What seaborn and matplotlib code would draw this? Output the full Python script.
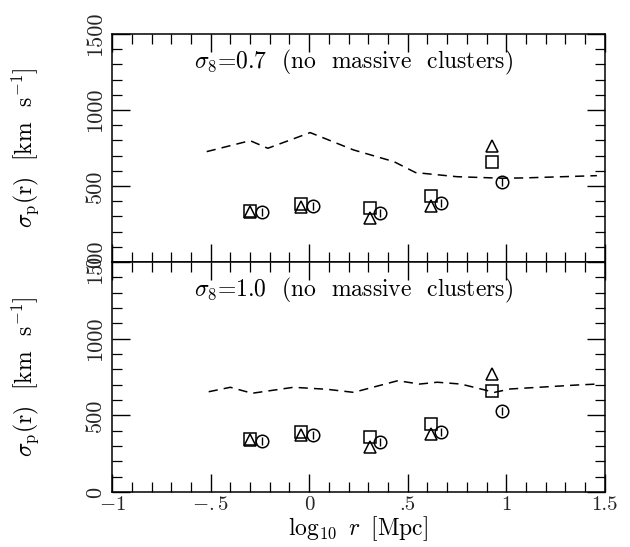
import matplotlib
matplotlib.use('Agg')
import matplotlib.pyplot as plt
from matplotlib.ticker import MultipleLocator
import seaborn as sns

# ── Data ──────────────────────────────────────────────────────────────────────
# dashed curve, sigma_8 = 0.7
top_line_x = [-0.52, -0.30, -0.21, 0.005, 0.225, 0.43, 0.54, 0.75, 0.98, 1.09, 1.46]
top_line_y = [726, 798, 748, 851, 737, 660, 588, 561, 551, 553, 568]
# dashed curve, sigma_8 = 1.0
bot_line_x = [-0.51, -0.40, -0.29, -0.08, 0.09, 0.225, 0.45, 0.56, 0.65, 0.77, 0.94, 1.02, 1.36, 1.46]
bot_line_y = [654, 683, 644, 683, 670, 650, 726, 704, 716, 704, 650, 672, 698, 704]

# symbol positions
tri_sq_x = [-0.30, -0.04, 0.31, 0.62, 0.93]
circ_x = [-0.24, 0.02, 0.36, 0.67, 0.98]

top_tri = [327, 364, 288, 368, 763]
top_sq = [336, 380, 357, 434, 656]
top_circ = [327, 368, 320, 386, 528]

bot_tri = [339, 372, 295, 378, 770]
bot_sq = [344, 393, 357, 442, 661]
bot_circ = [335, 372, 328, 393, 530]

titles = [r'$\sigma_8$=0.7  (no  massive  clusters)', r'$\sigma_8$=1.0  (no  massive  clusters)']
x_ticks = [-1, -0.5, 0, 0.5, 1, 1.5]
x_ticklabels = [r'$-1$', r'$-.5$', '0', '.5', '1', '1.5']
y_ticks = [0, 500, 1000, 1500]

# ── Style ─────────────────────────────────────────────────────────────────────
sns.set_theme(style='ticks')
plt.rcParams['font.family'] = ['cmr10', 'DejaVu Serif']
plt.rcParams['mathtext.fontset'] = 'cm'
plt.rcParams['axes.unicode_minus'] = False

fig = plt.figure(figsize=(6.3, 5.47), dpi=100)
ax_top = fig.add_axes([0.178, 0.521, 0.782, 0.417])
ax_bot = fig.add_axes([0.178, 0.1005, 0.782, 0.4205], sharex=ax_top)

panels = [
    (ax_top, top_line_x, top_line_y, top_tri, top_sq, top_circ, titles[0]),
    (ax_bot, bot_line_x, bot_line_y, bot_tri, bot_sq, bot_circ, titles[1]),
]

for ax, lx, ly, tri, sq, circ, title in panels:
    sns.lineplot(x=lx, y=ly, ax=ax, color='black', linestyle=(0, (6, 4)), linewidth=1.1)
    sns.lineplot(x=tri_sq_x, y=tri, ax=ax, color='black', linestyle='', marker='^',
                 ms=9, mfc='none', mec='black', mew=1.1)
    sns.lineplot(x=tri_sq_x, y=sq, ax=ax, color='black', linestyle='', marker='s',
                 ms=8, mfc='none', mec='black', mew=1.1)
    sns.lineplot(x=circ_x, y=circ, ax=ax, color='black', linestyle='', marker='o',
                 ms=9, mfc='none', mec='black', mew=1.1)
    sns.lineplot(x=circ_x, y=circ, ax=ax, color='black', linestyle='', marker='|',
                 ms=5.5, mec='black', mew=1.0)

    ax.set_xlim(-1, 1.5)
    ax.set_ylim(0, 1500)
    ax.xaxis.set_minor_locator(MultipleLocator(0.1))
    ax.yaxis.set_minor_locator(MultipleLocator(100))
    ax.set_yticks(y_ticks)
    ax.set_yticklabels([str(v) for v in y_ticks], rotation=90, va='center', fontsize=16)
    ax.tick_params(which='both', direction='in', top=True, right=True, color='black')
    ax.tick_params(axis='y', pad=5)
    ax.tick_params(which='major', length=13, width=1.0)
    ax.tick_params(which='minor', length=7, width=0.9)
    for sp in ax.spines.values():
        sp.set_color('black')
        sp.set_linewidth(1.1)
    ax.text(0.49, 0.875, title, transform=ax.transAxes, ha='center', va='center',
            fontsize=17, color='black')
    ax.set_ylabel(r'$\sigma_{\rm p}$(r)  [km  s$^{-1}$]', fontsize=17, color='black')
    ax.yaxis.set_label_coords(-0.145, 0.5)

ax_top.set_xticks(x_ticks)
ax_top.tick_params(axis='x', labelbottom=False)
ax_bot.set_xticks(x_ticks)
ax_bot.set_xticklabels(x_ticklabels, fontsize=15)
ax_bot.tick_params(axis='x', pad=3)
ax_bot.set_xlabel(r'log$_{10}$ $\,r\,$ [Mpc]', fontsize=17, color='black', labelpad=0)

fig.savefig('out.png', dpi=100)
